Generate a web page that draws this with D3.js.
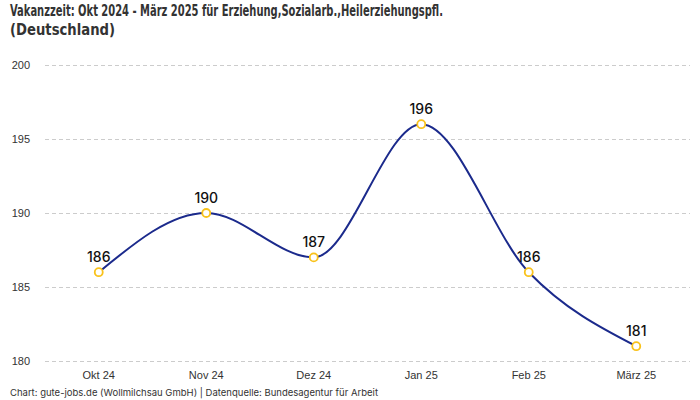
<!DOCTYPE html>
<html lang="de">
<head>
<meta charset="UTF-8">
<script src="https://d3js.org/d3.v7.min.js"></script>
<style>
  body { margin: 0; background: #fff; font-family: Inter, "Noto Sans", sans-serif; }
  .title { font-family: "DejaVu Sans", sans-serif; font-stretch: condensed; font-weight: bold; font-size: 16.5px; fill: #333; }
  .tick text { font-size: 11px; fill: #333; }
  .label { font-size: 14px; font-weight: 500; fill: #111; text-anchor: middle; }
  .source { font-size: 9.5px; fill: #333; }
</style>
</head>
<body>
<svg width="700" height="400"></svg>
<script>
// Daten
const months = ["Okt 24", "Nov 24", "Dez 24", "Jan 25", "Feb 25", "März 25"];
const vakanz = [186, 190, 187, 196, 186, 181];
const yTicks = [180, 185, 190, 195, 200];

const svg = d3.select("svg");
const plotL = 45, plotR = 690, plotT = 65, plotB = 361;

const x = d3.scaleBand().domain(months).range([plotL, plotR]).padding(0);
const y = d3.scaleLinear().domain([180, 200]).range([plotB, plotT]);
const cx = d => x(d) + x.bandwidth() / 2;

// Titel
svg.append("text").attr("class", "title").attr("x", 10).attr("y", 16)
  .attr("textLength", 433).attr("lengthAdjust", "spacingAndGlyphs")
  .text("Vakanzzeit: Okt 2024 - März 2025 für Erziehung,Sozialarb.,Heilerziehungspfl.");
svg.append("text").attr("class", "title").attr("x", 10).attr("y", 35)
  .attr("textLength", 105).attr("lengthAdjust", "spacingAndGlyphs")
  .text("(Deutschland)");

// Gitterlinien
svg.append("g")
  .attr("transform", `translate(${plotL},0)`)
  .call(d3.axisLeft(y).tickValues(yTicks).tickSize(-(plotR - plotL)).tickPadding(15))
  .call(g => g.select(".domain").remove())
  .call(g => g.selectAll(".tick line").attr("stroke", "#ccc").attr("stroke-dasharray", "4,3"));

// x-Achse
svg.append("g")
  .attr("transform", `translate(0,${plotB})`)
  .call(d3.axisBottom(x).tickSize(0).tickPadding(10))
  .call(g => g.select(".domain").remove());

const pts = months.map((m, i) => [cx(m), y(vakanz[i])]);

svg.append("path")
  .attr("d", d3.line().curve(d3.curveMonotoneX)(pts))
  .attr("fill", "none")
  .attr("stroke", "#1b2a8c")
  .attr("stroke-width", 2);

svg.selectAll("circle").data(pts).join("circle")
  .attr("cx", d => d[0]).attr("cy", d => d[1]).attr("r", 4)
  .attr("fill", "#fff").attr("stroke", "#f9c21b").attr("stroke-width", 1.8);

svg.selectAll(".label").data(vakanz).join("text")
  .attr("class", "label")
  .attr("x", (d, i) => cx(months[i]))
  .attr("y", d => y(d) - 10)
  .text(d => d);

svg.append("text").attr("class", "source").attr("x", 10).attr("y", 396)
  .text("Chart: gute-jobs.de (Wollmilchsau GmbH) | Datenquelle: Bundesagentur für Arbeit");
</script>
</body>
</html>
